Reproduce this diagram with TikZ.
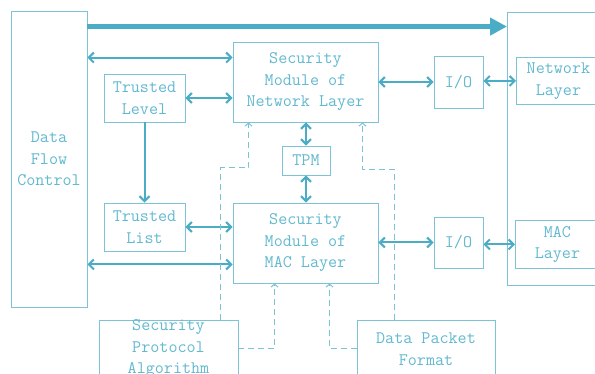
\documentclass[tikz,border=0pt]{standalone}
\usepackage{fontspec}
\usetikzlibrary{arrows.meta,calc}
\definecolor{flowline}{HTML}{4BACC6}
\definecolor{boxedge}{HTML}{7CC3D6}
\definecolor{boxtext}{HTML}{62B9D0}
\tikzset{
  unit/.style={draw=boxedge, line width=0.9pt, text=boxtext, align=center, inner sep=0pt,
    font=\ttfamily\fontsize{17.6}{21.5}\selectfont},
  link/.style={draw=flowline, line width=2pt, {Straight Barb[length=5pt,width=10pt]}-{Straight Barb[length=5pt,width=10pt]}},
  oneway/.style={draw=flowline, line width=2pt, -{Straight Barb[length=5pt,width=10pt]}},
  bus/.style={draw=flowline, line width=5pt, -{Triangle[length=17pt,width=17pt]}}
  }
\tikzstyle{dataflow} = [draw=boxedge, line width=1pt, dash pattern=on 6pt off 4pt, -{Straight Barb[length=3pt,width=7pt]}]

\begin{document}
\begin{tikzpicture}[x=1pt,y=-1pt]
   \clip (0,0) rectangle (595,374);
   \fill[white] (0,0) rectangle (595,374);

   \node[unit, minimum width=76, minimum height=296] (dfc) at (49,159) {Data\\Flow\\Control};
   \node[unit, minimum width=100, minimum height=273, anchor=north west] (stack) at (507,12) {};
   \node[unit, minimum width=84, minimum height=47, anchor=north west] (netl) at (516,57) {Network\\Layer};
   \node[unit, minimum width=84, minimum height=48, anchor=north west] (macl) at (515,220) {MAC\\Layer};

   \node[unit, minimum width=145, minimum height=80] (secnet) at (305.5,82) {Security\\Module of\\Network Layer};
   \node[unit, minimum width=145, minimum height=80] (secmac) at (305.5,243) {Security\\Module of\\MAC Layer};
   \node[unit, minimum width=81, minimum height=48] (tl) at (144.5,98) {Trusted\\Level};
   \node[unit, minimum width=81, minimum height=48] (tlist) at (144.5,227) {Trusted\\List};
   \node[unit, minimum width=48, minimum height=29] (tpm) at (306,160.5) {TPM};
   \node[unit, minimum width=49, minimum height=52] (ionet) at (458.5,82) {I/O};
   \node[unit, minimum width=49, minimum height=51] (iomac) at (458.5,242.5) {I/O};

   \node[unit, minimum width=139, minimum height=58] (spa) at (168.5,349) {Security\\Protocol\\Algorithm};
   \node[unit, minimum width=138, minimum height=58] (dpf) at (426,349) {Data Packet\\Format};

   % bus to the protocol stack
   \path ([yshift=-16pt]dfc.north east) coordinate (b1);
   \draw[bus] (b1) -- (b1 -| stack.west);

   \path ([yshift=-16pt]secnet.north west) coordinate (a1);
   \path ([yshift=19pt]secmac.south west) coordinate (a2);
   \path[link] (a1 -| dfc.east) -- (a1);
   \path[link] (a2 -| dfc.east) -- (a2);
   \path[link] (tl.east) -- (tl.east -| secnet.west);
   \path[oneway] (tl.south) -- (tlist.north);
   \path[link] (tlist.east) -- (tlist.east -| secmac.west);
   \path[link] (tpm.north |- secnet.south) -- (tpm.north);
   \path[link] (tpm.south) -- (tpm.south |- secmac.north);
   \path[link] (secnet.east) -- (ionet.west);
   \path[link] (netl.west -| ionet.east) -- (netl.west);
   \path[link] (iomac.west -| secmac.east) -- (iomac.west);
   \path[link] (macl.west -| iomac.east) -- (macl.west);

   % dashed inputs
   \path[dataflow] ([xshift=122pt]spa.north west) -- ++(0,-152) -| ([xshift=16pt]secnet.south west);
   \path[dataflow] (spa.east) -| ([xshift=42pt]secmac.south west);
   \path[dataflow] ([xshift=38pt]dpf.north west) -- ++(0,-150) -| ([xshift=-16pt]secnet.south east);
   \path[dataflow] (dpf.west) -| ([xshift=97pt]secmac.south west);
\end{tikzpicture}
\end{document}
